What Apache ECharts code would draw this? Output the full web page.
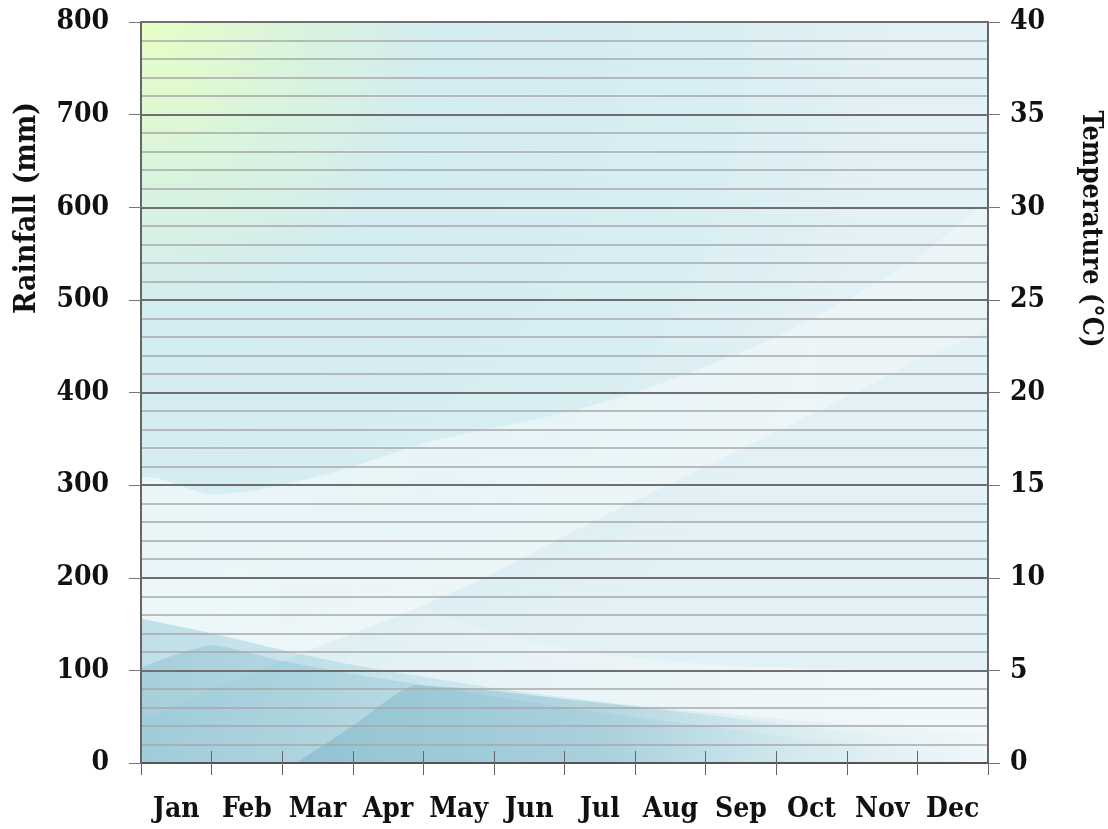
<!DOCTYPE html>
<html>
<head>
<meta charset="utf-8">
<script src="https://cdn.jsdelivr.net/npm/echarts@6/dist/echarts.min.js"></script>
<style>
  html, body { margin: 0; padding: 0; background: #ffffff; }
  #chart { width: 1108px; height: 829px; }
</style>
</head>
<body>
<div id="chart"></div>
<script>
// ---- Data ----
const months = ['Jan','Feb','Mar','Apr','May','Jun','Jul','Aug','Sep','Oct','Nov','Dec'];
const rainfallTicks = [0,100,200,300,400,500,600,700,800];
const temperatureTicks = [0,5,10,15,20,25,30,35,40];

// Decorative background shapes (rainfall units, x in months from left edge 0..12)
const shapeX        = [0, 1, 2, 3, 4, 5, 6, 7, 8, 9, 10, 11, 12];
const whiteBandLow  = [55, 80, 110, 140, 170, 205, 245, 283, 320, 358, 395, 435, 475];
const whiteBandHigh = [305, 290, 300, 320, 345, 362, 378, 400, 428, 460, 500, 545, 600];
const rightLightX   = [2, 3, 4, 5, 6, 7, 8, 9, 10, 11, 12];
const rightLightTop = [215, 190, 168, 142, 124, 114, 107, 103, 101, 100, 100];
const lowBandTop    = [156, 140, 122, 106, 93, 81, 71, 62, 55, 48, 42, 37, 33];
const leftWedgeTop  = [103, 127, 110, 96, 84, 72, 60, 50, 40, 30, 22, 14, 8];
const midWedgeX     = [2.2, 3, 3.9, 5, 6, 7, 8, 9, 10, 11, 12];
const midWedgeTop   = [0, 40, 84, 78, 69, 61, 52, 43, 34, 26, 18];

function pairs(xs, ys) { return xs.map((x, i) => [x, ys[i]]); }

const FONT = '"DejaVu Serif Condensed", "DejaVu Serif"';

const chart = echarts.init(document.getElementById('chart'), null, { renderer: 'canvas' });

const hFade = (c0, c1) => ({
  type: 'linear', x: 0, y: 0, x2: 1, y2: 0,
  colorStops: [{ offset: 0, color: c0 }, { offset: 1, color: c1 }]
});

// band drawn through the axis scales (api.coord)
function bandSeries(xs, low, high, fill) {
  return {
    type: 'custom', xAxisIndex: 2, yAxisIndex: 0, silent: true, clip: true,
    data: [[xs[0], low[0]]],
    renderItem: function (params, api) {
      const top = xs.map((x, i) => api.coord([x, high[i]]));
      const bot = xs.map((x, i) => api.coord([x, low[i]])).reverse();
      return {
        type: 'polygon',
        shape: { points: top.concat(bot), smooth: 0.25 },
        style: { fill: fill }
      };
    }
  };
}

const option = {
  animation: false,
  grid: {
    left: 141, right: 120, top: 22, bottom: 66,
    show: true,
    borderWidth: 0,
    backgroundColor: {
      type: 'radial', x: 0, y: 0, r: 1.0,
      colorStops: [
        { offset: 0, color: '#e6ffc4' },
        { offset: 0.2, color: '#daf4dc' },
        { offset: 0.4, color: '#d3ecf1' },
        { offset: 0.75, color: '#d7eef3' },
        { offset: 1, color: '#e2f1f5' }
      ]
    }
  },
  xAxis: [
    {
      type: 'category', data: months, boundaryGap: true, position: 'bottom', z: 10,
      axisLine: { show: true, lineStyle: { color: '#555', width: 2 } },
      axisTick: { show: true, inside: true, length: 12, lineStyle: { color: '#666', width: 1 } },
      axisLabel: { interval: 0, color: '#111', fontFamily: FONT, fontWeight: 'bold', fontSize: 28, margin: 33 },
      splitLine: { show: false }
    },
    {
      type: 'category', data: months, boundaryGap: true, position: 'bottom', z: 10,
      axisLine: { show: false },
      axisTick: { show: true, inside: false, length: 12, lineStyle: { color: '#666', width: 1 } },
      axisLabel: { show: false },
      splitLine: { show: false }
    },
    { type: 'value', min: 0, max: 12, show: false }
  ],
  yAxis: [
    {
      type: 'value', min: 0, max: 800, interval: 100, position: 'left', z: 10,
      axisLine: { show: true, lineStyle: { color: '#666', width: 2 } },
      axisTick: { show: true, inside: false, length: 12, lineStyle: { color: '#777', width: 1 } },
      axisLabel: {
        color: '#111', fontFamily: FONT, fontWeight: 'bold', fontSize: 28, margin: 32,
        formatter: v => rainfallTicks.includes(v) ? String(v) : ''
      },
      splitLine: { show: true, lineStyle: { color: '#6f6f6f', width: 2 } },
      minorTick: { show: false, splitNumber: 5 },
      minorSplitLine: { show: true, lineStyle: { color: '#a9a7a8', width: 1.6 } }
    },
    {
      type: 'value', min: 0, max: 40, interval: 5, position: 'right', z: 10,
      axisLine: { show: true, lineStyle: { color: '#666', width: 2 } },
      axisTick: { show: true, inside: false, length: 12, lineStyle: { color: '#777', width: 1 } },
      axisLabel: {
        color: '#111', fontFamily: FONT, fontWeight: 'bold', fontSize: 28, margin: 22,
        formatter: v => temperatureTicks.includes(v) ? String(v) : ''
      },
      splitLine: { show: false }
    }
  ],
  graphic: [
    {
      type: 'text', x: 27, y: 208, rotation: Math.PI / 2,
      style: { text: 'Rainfall (mm)', fill: '#111', font: 'bold 30px "DejaVu Serif Condensed", "DejaVu Serif"', textAlign: 'center', textVerticalAlign: 'middle' }
    },
    {
      type: 'text', x: 1090, y: 229, rotation: -Math.PI / 2,
      style: { text: 'Temperature (°C)', fill: '#111', font: 'bold 27px "DejaVu Serif Condensed", "DejaVu Serif"', textAlign: 'center', textVerticalAlign: 'middle' }
    }
  ],
  series: [
    // white diagonal band
    bandSeries(shapeX, whiteBandLow, whiteBandHigh, hFade('rgba(255,255,255,0.5)', 'rgba(255,255,255,0.3)')),
    // light area at lower right
    {
      type: 'line', xAxisIndex: 2, yAxisIndex: 0, smooth: true, symbol: 'none', silent: true,
      lineStyle: { width: 0 },
      areaStyle: { color: hFade('rgba(255,255,255,0)', 'rgba(255,255,255,0.8)') },
      data: pairs(rightLightX, rightLightTop)
    },
    // teal low band
    {
      type: 'line', xAxisIndex: 2, yAxisIndex: 0, smooth: 0.3, symbol: 'none', silent: true,
      lineStyle: { width: 0 },
      areaStyle: { color: hFade('rgba(110,180,200,0.5)', 'rgba(150,205,220,0.05)') },
      data: pairs(shapeX, lowBandTop)
    },
    // left wedge
    {
      type: 'line', xAxisIndex: 2, yAxisIndex: 0, smooth: 0.2, symbol: 'none', silent: true,
      lineStyle: { width: 0 },
      areaStyle: { color: hFade('rgba(95,165,185,0.4)', 'rgba(120,185,205,0.0)') },
      data: pairs(shapeX, leftWedgeTop)
    },
    // middle wedge
    {
      type: 'line', xAxisIndex: 2, yAxisIndex: 0, smooth: 0.2, symbol: 'none', silent: true,
      lineStyle: { width: 0 },
      areaStyle: {
        color: {
          type: 'linear', x: 0, y: 0, x2: 1, y2: 0,
          colorStops: [
            { offset: 0, color: 'rgba(90,160,185,0.45)' },
            { offset: 0.45, color: 'rgba(90,160,185,0.4)' },
            { offset: 0.75, color: 'rgba(120,185,205,0.1)' },
            { offset: 1, color: 'rgba(150,205,220,0.0)' }
          ]
        }
      },
      data: pairs(midWedgeX, midWedgeTop)
    }
  ]
};

chart.setOption(option);
</script>
</body>
</html>
